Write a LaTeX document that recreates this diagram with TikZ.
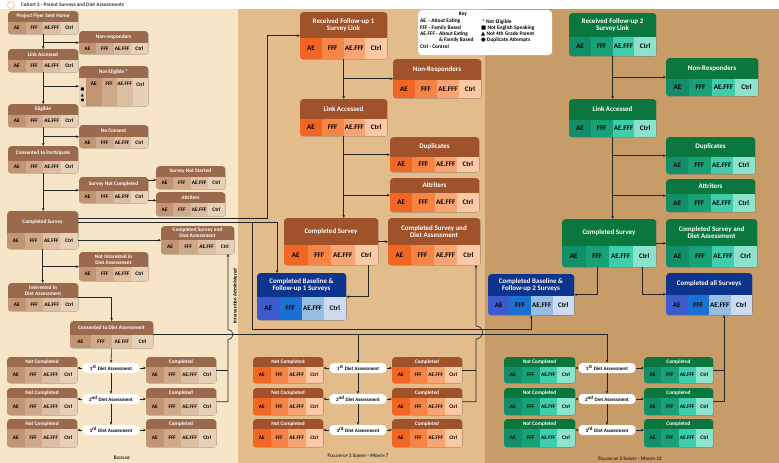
\documentclass[tikz,border=0pt]{standalone}
\usepackage{fontspec}
\setmainfont{Carlito}
\newfontfamily\symf{DejaVu Sans}
\usetikzlibrary{positioning,arrows.meta,calc,shadows}
\definecolor{bgleft}{RGB}{246,229,198}
\definecolor{bgmid}{RGB}{226,188,138}
\definecolor{bgright}{RGB}{199,156,105}
\definecolor{blh}{RGB}{155,106,76}
\definecolor{bl0}{RGB}{193,148,114}
\definecolor{bl1}{RGB}{208,169,136}
\definecolor{bl2}{RGB}{221,190,160}
\definecolor{bl3}{RGB}{232,208,182}
\definecolor{orh}{RGB}{160,82,42}
\definecolor{or0}{RGB}{242,101,34}
\definecolor{or1}{RGB}{246,132,68}
\definecolor{or2}{RGB}{249,165,115}
\definecolor{or3}{RGB}{252,200,165}
\definecolor{grh}{RGB}{10,120,62}
\definecolor{gr0}{RGB}{18,142,104}
\definecolor{gr1}{RGB}{24,160,118}
\definecolor{gr2}{RGB}{62,206,172}
\definecolor{gr3}{RGB}{140,226,202}
\definecolor{buh}{RGB}{12,52,140}
\definecolor{bu0}{RGB}{60,92,205}
\definecolor{bu1}{RGB}{28,112,212}
\definecolor{bu2}{RGB}{150,190,226}
\definecolor{bu3}{RGB}{204,218,242}
\newcommand\sfont{\bfseries\fontsize{5.3}{5.8}\selectfont}
\newcommand\mfont{\bfseries\fontsize{7}{7.6}\selectfont}
\newcommand\fakesc[2]{#1{\fontsize{3.9}{4}\selectfont #2}}
\def\cellpad{0}
\def\cellfrac{0.5}
\tikzset{
  survey/.style={rounded corners=3pt,inner sep=0pt,anchor=north west,
    drop shadow={opacity=0.35,shadow xshift=0.7pt,shadow yshift=-0.7pt}},
  htitle/.style={inner sep=0pt,text=white,align=center},
  cell/.style={inner sep=0pt,text=black},
  pill/.style={rounded corners=4pt,fill=white,minimum width=57pt,minimum height=10pt,
    inner sep=0pt,font=\bfseries\fontsize{5}{5.5}\selectfont},
  link/.style={draw=black!85,line width=0.6pt},
  arr/.style={link,-{Stealth[length=3pt,width=2.6pt]}},
  keybox/.style={rounded corners=4pt,fill=white,anchor=north west,inner sep=0pt,
    minimum width=134pt,minimum height=45pt},
  keytext/.style={inner sep=0pt,font=\bfseries\fontsize{5.4}{6.3}\selectfont},
  phase/.style={inner sep=0pt,font=\bfseries\fontsize{5.3}{6}\selectfont,text=black!85},
  ivlabel/.style={inner sep=0pt,rotate=90,font=\bfseries\fontsize{5}{6}\selectfont}
}
% [font]{name}{x}{y}{w}{h}{header h}{palette}{title}
\newcommand\survbox[9][\sfont]{%
  \node[survey,fill=#8h,minimum width=#5pt,minimum height=#6pt] (#2) at (#3,#4) {};
  \pgfmathsetmacro\cw{(#5-\cellpad)/4}
  \begin{scope}
    \clip[rounded corners=3pt] (#2.north west) rectangle (#2.south east);
    \fill[#83] (#3,{#4+#7}) rectangle ++(#5,{#6-#7});
    \foreach \k in {0,1,2,3}
      \fill[#8\k] ({#3+\cellpad+\k*\cw},{#4+#7}) rectangle ++(\cw,{#6-#7});
  \end{scope}
  \node[htitle,font=#1] (#2-t) at ({#3+#5/2},{#4+#7/2}) {#9};
  \foreach \k/\lab in {0/AE,1/FFF,2/AE.FFF,3/Ctrl}
    \node[cell,font=#1] (#2-\k) at ({#3+\cellpad+(\k+0.5)*\cw},{#4+#7+\cellfrac*(#6-#7)}) {\lab};
}

\begin{document}
\begin{tikzpicture}[x=1pt,y=-1pt]
  \useasboundingbox (0,0) rectangle (779,463);
  \fill[white] (0,0) rectangle (779,463);
  \fill[bgleft] (0,9) rectangle (238,463);
  \fill[bgmid] (238,9) rectangle (485,463);
  \fill[bgright] (485,9) rectangle (779,463);
  \node[circle,draw=orange!55,line width=0.6pt,minimum size=7pt,inner sep=0pt] (logo) at (11,5) {};
  \node[anchor=west,inner sep=0pt,text=black!80,font=\bfseries\fontsize{5.2}{6}\selectfont] (title) at (21,5) {Cohort 2 - Parent Surveys and Diet Assessments};

  \survbox{flyer}{8}{11}{70}{23}{11}{bl}{Project Flyer Sent Home}
  \survbox{nonresp0}{79}{31}{69}{23}{12}{bl}{Non-responders}
  \survbox{link0}{8}{49}{70}{23}{11}{bl}{Link Accessed}
  \begin{scope}
    \def\cellpad{7}\def\cellfrac{0.22}
    \survbox{notelig}{79}{66}{69}{40}{12}{bl}{Not Eligible *}
  \end{scope}
  \node[inner sep=0pt,align=center,font=\symf\fontsize{4}{5.4}\selectfont] (nesym) at (82.5,95) {■\\▲\\●};
  \survbox{elig}{8}{104}{70}{23}{11}{bl}{Eligible}
  \survbox{nocons}{79}{125}{69}{23}{12}{bl}{No Consent}
  \survbox{consent}{8}{146}{70}{27}{15}{bl}{Consented to Participate}
  \survbox{notcomp0}{79}{177}{69}{26}{14}{bl}{Survey Not Completed}
  \survbox{notstart}{156}{166}{69}{23}{11}{bl}{Survey Not Started}
  \survbox{attr0}{156}{192}{69}{24}{11}{bl}{Attriters}
  \survbox{comp0}{7}{211}{71}{38}{22}{bl}{Completed Survey}
  \survbox{compdiet0}{161}{226}{73}{28}{14}{bl}{Completed Survey and\\Diet Assessment}
  \survbox{notint}{79}{252}{69}{29}{15}{bl}{Not Interested in\\Diet Assessment}
  \survbox{interest}{8}{283}{70}{28}{15}{bl}{Interested in\\Diet Assessment}
  \survbox{cdiet}{70}{321}{83}{27}{14}{bl}{Consented to Diet Assessment}

  \survbox[\mfont]{recv1}{300}{12}{87}{47}{26}{or}{Received Follow-up 1\\Survey Link}
  \survbox[\mfont]{nonresp1}{393}{59}{88}{39}{21}{or}{Non-Responders}
  \survbox[\mfont]{link1}{300}{99}{87}{37}{20}{or}{Link Accessed}
  \survbox[\mfont]{dup1}{390}{137}{89}{35}{20}{or}{Duplicates}
  \survbox[\mfont]{attr1}{390}{178}{89}{34}{15}{or}{Attriters}
  \survbox[\mfont]{comp1}{284}{218}{94}{47}{27}{or}{Completed Survey}
  \survbox[\mfont]{compdiet1}{388}{218}{92}{47}{27}{or}{Completed Survey and\\Diet Assessment}
  \survbox[\mfont]{both1}{257}{273}{89}{47}{24}{bu}{Completed Baseline \&\\Follow-up 1 Surveys}

  \survbox[\mfont]{recv2}{569}{13}{87}{43}{24}{gr}{Received Follow-up 2\\Survey Link}
  \survbox[\mfont]{nonresp2}{666}{58}{92}{38}{21}{gr}{Non-Responders}
  \survbox[\mfont]{link2}{569}{99}{87}{38}{21}{gr}{Link Accessed}
  \survbox[\mfont]{dup2}{666}{137}{89}{37}{20}{gr}{Duplicates}
  \survbox[\mfont]{attr2}{666}{179}{89}{33}{15}{gr}{Attriters}
  \survbox[\mfont]{comp2}{562}{219}{94}{48}{27}{gr}{Completed Survey}
  \survbox[\mfont]{compdiet2}{666}{219}{91}{48}{27}{gr}{Completed Survey and\\Diet Assessment}
  \survbox[\mfont]{both2}{488}{274}{86}{41}{22}{bu}{Completed Baseline \&\\Follow-up 2 Surveys}
  \survbox[\mfont]{all2}{666}{273}{86}{42}{22}{bu}{Completed all Surveys}

  \foreach \r/\ry/\rh/\py/\sup in {1/357/26/368/st,2/388/27/399/nd,3/419/28/430/rd}{
    \survbox{bnc\r}{7}{\ry}{70}{\rh}{10}{bl}{Not Completed}
    \survbox{bc\r}{146}{\ry}{70}{\rh}{10}{bl}{Completed}
    \node[pill] (bp\r) at (111,\py) {\r\textsuperscript{\sup} Diet Assessment};
    \survbox{fnc\r}{253}{\ry}{70}{\rh}{10}{or}{Not Completed}
    \survbox{fc\r}{392}{\ry}{70}{\rh}{10}{or}{Completed}
    \node[pill] (fp\r) at (358,\py) {\r\textsuperscript{\sup} Diet Assessment};
    \survbox{gnc\r}{504}{\ry}{71}{\rh}{10}{gr}{Not Completed}
    \survbox{gc\r}{644}{\ry}{69}{\rh}{10}{gr}{Completed}
    \node[pill] (gp\r) at (607,\py) {\r\textsuperscript{\sup} Diet Assessment};
    \draw[arr] (bp\r) -- (bp\r -| bnc\r.east);
    \draw[arr] (bp\r) -- (bp\r -| bc\r.west);
    \draw[arr] (fp\r) -- (fp\r -| fnc\r.east);
    \draw[arr] (fp\r) -- (fp\r -| fc\r.west);
    \draw[arr] (gp\r) -- (gp\r -| gnc\r.east);
    \draw[arr] (gp\r) -- (gp\r -| gc\r.west);
  }

  \node[keybox] (key) at (418,10) {};
  \node[keytext,anchor=north] (keyhead) at (463,12) {Key};
  \node[keytext,anchor=north west,align=left] (keyleft) at (420,19)
    {AE\ \ - About Eating\\FFF - Family Based\\AE.FFF - About Eating\\\phantom{AE.FFF - }\& Family Based\\Ctrl - Control};
  \node[keytext,anchor=north west,align=left] (keyright) at (481,19)
    {\,* Not Eligible\\{\symf■} Not English Speaking\\{\symf▲} Not 4th Grade Parent\\{\symf●} Duplicate Attempts};

  \draw[arr] (flyer) -- (link0);
  \draw[arr] (link0) -- (elig);
  \draw[arr] (elig) -- (consent);
  \draw[arr] (consent.south) -- (consent.south |- comp0.north);
  \draw[arr] (comp0.south) -- (comp0.south |- interest.north);
  \draw[arr] (flyer.south |- nonresp0.west) -- (nonresp0.west);
  \draw[arr] (link0.south |- notelig.west) -- (notelig.west);
  \draw[arr] (elig.south |- nocons.west) -- (nocons.west);
  \draw[arr] (consent.south |- notcomp0.west) -- (notcomp0.west);
  \draw[arr] (comp0.south |- notint.west) -- (notint.west);
  \draw[arr] ([yshift=-3pt]notcomp0.north east) -- +(8,0);
  \draw[arr] ([yshift=3pt]notcomp0.south east) -- +(8,0);
  \draw[arr] (comp0.east |- compdiet0.west) -- (compdiet0.west);
  \draw[arr] (interest.east) -| (cdiet.north);
  \draw[arr] (cdiet) -- (bp1);
  \draw[arr] (bp1) -- (bp2);
  \draw[arr] (bp2) -- (bp3);

  \coordinate (bx0) at (228,254);
  \coordinate (bx1) at (476,265);
  \coordinate (bx2) at (724,315);
  \coordinate (up1) at (267,218);
  \coordinate (dn1) at (277,222);
  \coordinate (dnA) at (252,222);
  \coordinate (lnA) at (252,329);
  \draw[link] (bc1.east) -- (bc1.east -| bx0);
  \draw[arr] (bc2.east) -| (228,339.5) arc[start angle=90,end angle=-90,radius=5] -- (bx0);
  \node[ivlabel] (iv) at (235,296) {Intervention Administered};
  \draw[arr] (comp0.east |- up1) -- (up1) |- (recv1.west);
  \draw[arr] (comp0.east |- dn1) -| (both1.north -| dn1);
  \draw[arr] (dnA) -- (lnA) -| (both2.south);
  \draw[arr] (cdiet.east) -| (fp1.north);
  \draw[arr] (cdiet.east -| fp1.north) -| (gp1.north);

  \draw[arr] (recv1) -- (link1);
  \draw[arr] (link1.south) -- (link1.south |- comp1.north);
  \draw[arr] (recv1.south |- nonresp1.west) -- (nonresp1.west);
  \draw[arr] (link1.south |- dup1.west) -- (dup1.west);
  \draw[arr] (link1.south |- attr1.west) -- (attr1.west);
  \draw[arr] (comp1) -- (compdiet1);
  \draw[arr] ([xshift=-10pt]comp1.south east) |- (both1.east);
  \draw[link] (fc1.east) -- (fc1.east -| bx1);
  \draw[arr] (fc2.east) -| (476,339) arc[start angle=90,end angle=-90,radius=6.5] -- (bx1);
  \draw[arr] (fp1) -- (fp2);
  \draw[arr] (fp2) -- (fp3);

  \draw[arr] (recv2) -- (link2);
  \draw[arr] (link2.south) -- (link2.south |- comp2.north);
  \draw[arr] (recv2.south |- nonresp2.west) -- (nonresp2.west);
  \draw[arr] (link2.south |- dup2.west) -- (dup2.west);
  \draw[arr] (link2.south |- attr2.west) -- (attr2.west);
  \draw[arr] (comp2) -- (compdiet2);
  \draw[arr] ([xshift=-12pt]comp2.south) |- (both2.east);
  \draw[arr] ([xshift=33pt]comp2.south) |- (all2.west);
  \draw[link] (gc1.east) -- (gc1.east -| bx2);
  \draw[arr] (gc2.east) -| (bx2);
  \draw[arr] (gp1) -- (gp2);
  \draw[arr] (gp2) -- (gp3);

  \node[phase] (ph0) at (122,458) {\fakesc{B}{ASELINE}};
  \node[phase] (ph1) at (358,456) {\fakesc{F}{OLLOW-UP} 1 \fakesc{S}{URVEY} - \fakesc{M}{ONTH} 7};
  \node[phase] (ph2) at (630,459) {\fakesc{F}{OLLOW-UP} 2 \fakesc{S}{URVEY} - \fakesc{M}{ONTH} 12};
\end{tikzpicture}
\end{document}
